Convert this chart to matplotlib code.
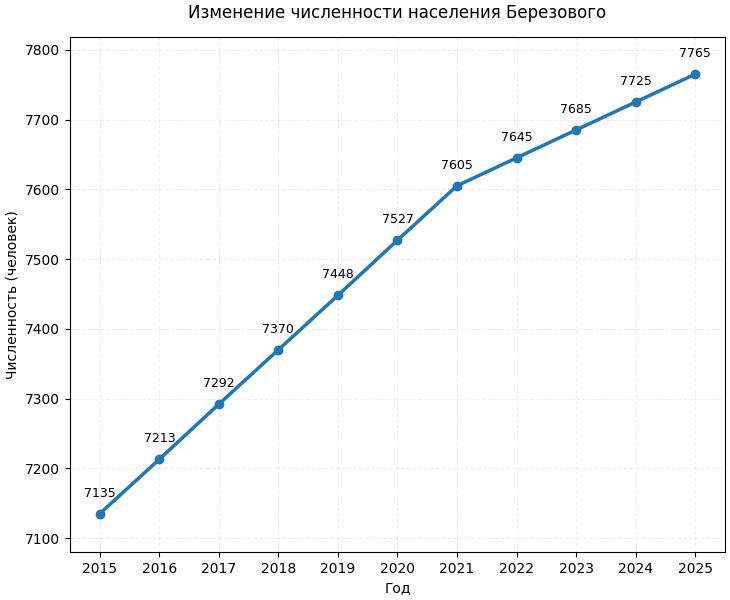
import matplotlib.pyplot as plt

# data
years = [2015, 2016, 2017, 2018, 2019, 2020, 2021, 2022, 2023, 2024, 2025]
population = [7135, 7213, 7292, 7370, 7448, 7527, 7605, 7645, 7685, 7725, 7765]

fig, ax = plt.subplots(figsize=(7.3, 6), dpi=100)

ax.plot(years, population, color='#1f77b4', linewidth=2.5, marker='o', markersize=6)

# labels over the points
for x, y in zip(years, population):
    ax.annotate(str(y), (x, y), textcoords='offset points', xytext=(0, 10),
                ha='center', va='bottom', fontsize=9)

ax.set_title('Изменение численности населения Березового', fontsize=12, pad=14)
ax.set_xlabel('Год', fontsize=10)
ax.set_ylabel('Численность (человек)', fontsize=10)
ax.set_xticks(years)
ax.set_xlim(2014.5, 2025.5)
ax.set_ylim(7080, 7818)
ax.grid(True, linestyle='--', alpha=0.2)

plt.subplots_adjust(left=0.096, right=0.993, top=0.938, bottom=0.08)
plt.savefig('out.png')
